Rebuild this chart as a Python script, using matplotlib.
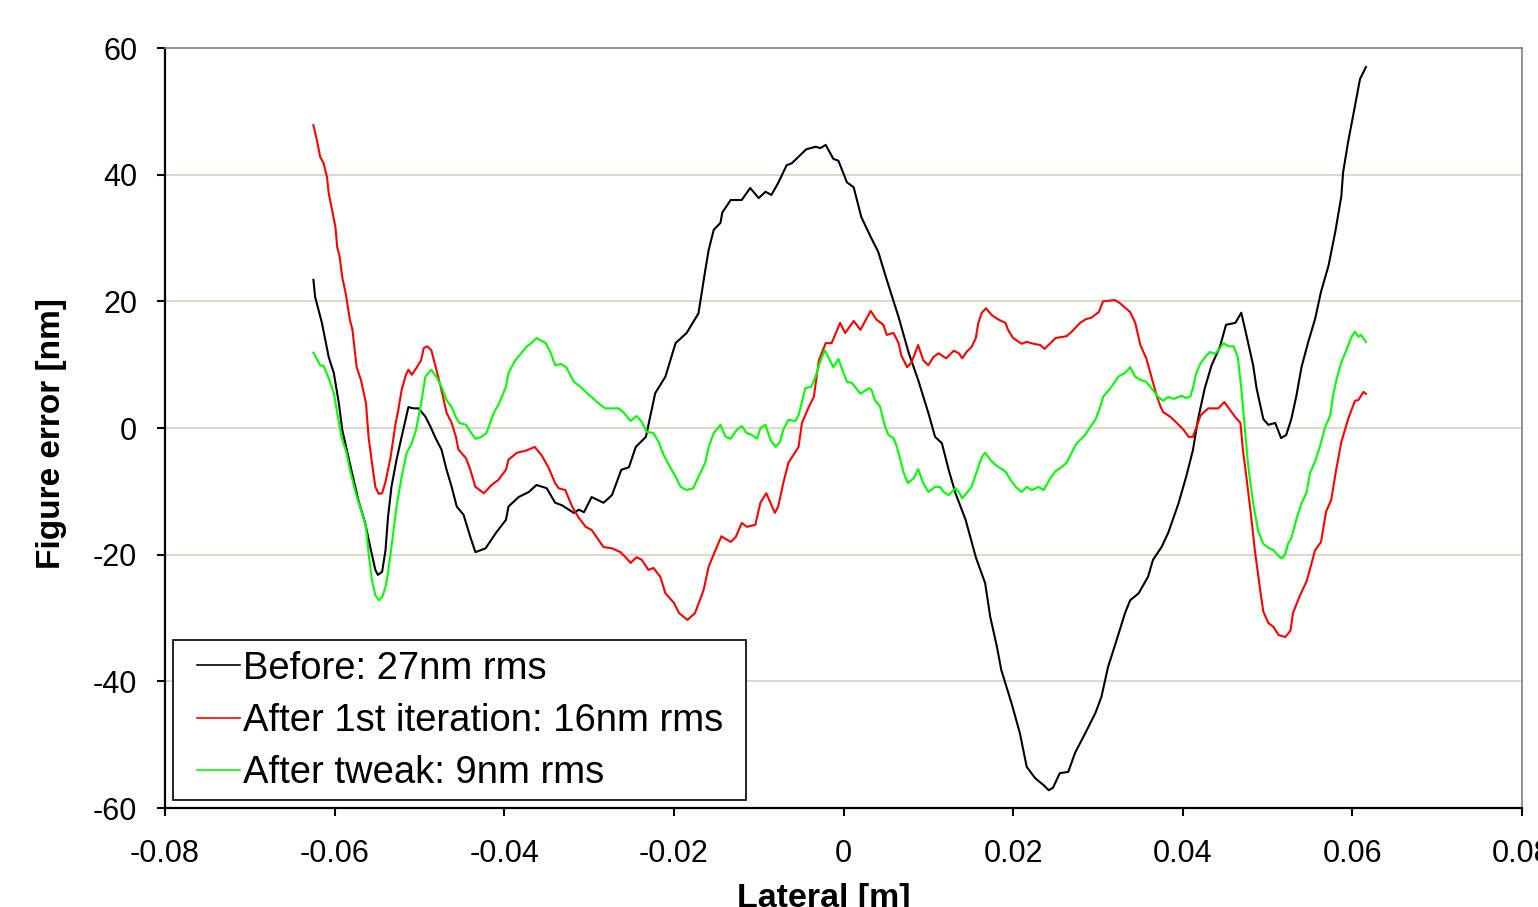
import matplotlib
matplotlib.use("Agg")
import matplotlib.pyplot as plt
from matplotlib.ticker import FixedLocator, FuncFormatter
from matplotlib.patches import Rectangle

plt.rcParams['font.family'] = ['Liberation Sans', 'DejaVu Sans']

# ---------------- data ----------------
x_before = [-0.0625, -0.0623, -0.0615, -0.0607, -0.0601, -0.0595, -0.0591, -0.0581, -0.0572, -0.0564,
            -0.0558, -0.0552, -0.0549, -0.0544, -0.0540, -0.0537, -0.0533, -0.0527, -0.0521, -0.0513,
            -0.0507, -0.0501, -0.0493, -0.0487, -0.0481, -0.0474, -0.0468, -0.0462, -0.0456, -0.0448,
            -0.0440, -0.0434, -0.0422, -0.0410, -0.0398, -0.0395, -0.0383, -0.0371, -0.0362, -0.0350,
            -0.0340, -0.0332, -0.0318, -0.0312, -0.0306, -0.0297, -0.0283, -0.0273, -0.0262, -0.0253,
            -0.0245, -0.0233, -0.0227, -0.0222, -0.0210, -0.0198, -0.0185, -0.0171, -0.0163, -0.0159,
            -0.0153, -0.0145, -0.0143, -0.0133, -0.0120, -0.0110, -0.0100, -0.0092, -0.0085, -0.0077,
            -0.0067, -0.0061, -0.0051, -0.0044, -0.0033, -0.0027, -0.0021, -0.0012, -0.0006, 0.0004,
            0.0012, 0.0021, 0.0032, 0.0041, 0.0051, 0.0065, 0.0077, 0.0088, 0.0100, 0.0108,
            0.0116, 0.0124, 0.0132, 0.0144, 0.0156, 0.0167, 0.0173, 0.0181, 0.0186, 0.0198,
            0.0208, 0.0216, 0.0226, 0.0236, 0.0242, 0.0247, 0.0255, 0.0265, 0.0273, 0.0285,
            0.0297, 0.0304, 0.0312, 0.0322, 0.0332, 0.0338, 0.0348, 0.0359, 0.0365, 0.0375,
            0.0383, 0.0395, 0.0404, 0.0412, 0.0418, 0.0426, 0.0434, 0.0444, 0.0451, 0.0462,
            0.0469, 0.0475, 0.0483, 0.0487, 0.0495, 0.0501, 0.0509, 0.0516, 0.0522, 0.0528,
            0.0534, 0.0540, 0.0548, 0.0556, 0.0563, 0.0572, 0.0580, 0.0587, 0.0589, 0.0595,
            0.0601, 0.0609, 0.0616]
y_before = [23.4, 20.7, 16.6, 11.2, 8.7, 3.9, -0.3, -6.2, -11.4, -15.0,
            -18.8, -22.4, -23.2, -22.7, -19.3, -14.0, -9.3, -5.0, -1.4, 3.3,
            3.1, 3.1, 1.8, 0.2, -1.6, -3.4, -6.6, -9.3, -12.4, -13.7,
            -17.2, -19.6, -19.0, -16.6, -14.5, -12.4, -10.9, -10.1, -9.0, -9.5,
            -11.8, -12.2, -13.4, -12.9, -13.3, -10.9, -11.8, -10.6, -6.6, -6.2,
            -3.0, -1.4, 2.4, 5.5, 8.1, 13.4, 15.0, 18.1, 24.9, 28.1,
            31.3, 32.4, 34.0, 36.0, 36.0, 37.9, 36.3, 37.3, 36.8, 38.7,
            41.5, 41.8, 43.1, 44.0, 44.4, 44.2, 44.7, 42.5, 42.2, 38.8,
            38.0, 33.3, 30.2, 27.8, 23.4, 17.5, 11.8, 7.6, 2.4, -1.4,
            -2.4, -6.6, -10.3, -14.5, -20.4, -24.5, -29.8, -34.6, -38.2, -43.4,
            -48.2, -53.5, -55.3, -56.4, -57.2, -56.8, -54.5, -54.3, -51.3, -48.2,
            -45.0, -42.5, -37.7, -33.5, -29.2, -27.2, -26.1, -23.5, -20.8, -18.8,
            -16.5, -11.9, -7.7, -3.5, 1.4, 6.3, 9.9, 12.9, 16.3, 16.6,
            18.2, 14.7, 9.9, 6.3, 1.4, 0.5, 0.8, -1.6, -1.1, 1.4,
            5.1, 9.6, 13.6, 17.2, 21.5, 25.7, 31.1, 36.6, 40.3, 45.2,
            49.4, 55.1, 57.0]

x_iter1 = [-0.0625, -0.0621, -0.0617, -0.0613, -0.0609, -0.0607, -0.0603, -0.0599, -0.0597, -0.0594,
           -0.0591, -0.0587, -0.0582, -0.0579, -0.0574, -0.0569, -0.0563, -0.0560, -0.0556, -0.0552,
           -0.0548, -0.0544, -0.0540, -0.0534, -0.0528, -0.0525, -0.0521, -0.0516, -0.0513, -0.0509,
           -0.0503, -0.0498, -0.0495, -0.0491, -0.0486, -0.0480, -0.0474, -0.0468, -0.0462, -0.0457,
           -0.0454, -0.0445, -0.0440, -0.0434, -0.0424, -0.0415, -0.0407, -0.0398, -0.0395, -0.0385,
           -0.0375, -0.0364, -0.0356, -0.0348, -0.0340, -0.0336, -0.0328, -0.0320, -0.0312, -0.0304,
           -0.0297, -0.0283, -0.0273, -0.0263, -0.0257, -0.0251, -0.0244, -0.0238, -0.0230, -0.0224,
           -0.0216, -0.0210, -0.0200, -0.0194, -0.0184, -0.0175, -0.0165, -0.0159, -0.0151, -0.0144,
           -0.0133, -0.0127, -0.0120, -0.0114, -0.0104, -0.0098, -0.0091, -0.0081, -0.0077, -0.0071,
           -0.0065, -0.0053, -0.0049, -0.0041, -0.0035, -0.0029, -0.0021, -0.0014, -0.0004, 0.0002,
           0.0012, 0.0020, 0.0032, 0.0039, 0.0047, 0.0051, 0.0059, 0.0065, 0.0068, 0.0075,
           0.0080, 0.0088, 0.0094, 0.0100, 0.0106, 0.0112, 0.0121, 0.0130, 0.0136, 0.0140,
           0.0145, 0.0151, 0.0156, 0.0159, 0.0163, 0.0168, 0.0175, 0.0183, 0.0191, 0.0194,
           0.0200, 0.0210, 0.0216, 0.0224, 0.0232, 0.0237, 0.0244, 0.0250, 0.0263, 0.0269,
           0.0279, 0.0286, 0.0292, 0.0301, 0.0306, 0.0320, 0.0326, 0.0338, 0.0344, 0.0350,
           0.0357, 0.0363, 0.0369, 0.0374, 0.0377, 0.0385, 0.0393, 0.0401, 0.0407, 0.0412,
           0.0421, 0.0430, 0.0442, 0.0449, 0.0456, 0.0462, 0.0468, 0.0471, 0.0475, 0.0480,
           0.0485, 0.0491, 0.0495, 0.0501, 0.0507, 0.0513, 0.0521, 0.0527, 0.0530, 0.0538,
           0.0546, 0.0550, 0.0556, 0.0563, 0.0569, 0.0575, 0.0581, 0.0587, 0.0595, 0.0603,
           0.0607, 0.0613, 0.0616]
y_iter1 = [47.8, 45.5, 42.8, 41.8, 39.6, 37.1, 34.4, 31.7, 28.6, 27.0,
           23.8, 21.3, 17.1, 15.5, 9.6, 7.6, 3.9, -1.4, -5.5, -9.3,
           -10.4, -10.3, -8.5, -4.6, 0.8, 2.8, 6.0, 8.4, 9.2, 8.4,
           9.6, 10.7, 12.6, 12.9, 12.3, 9.2, 6.0, 2.4, 0.8, -1.4,
           -3.4, -4.8, -6.6, -9.3, -10.3, -9.0, -8.2, -6.6, -5.0, -3.9,
           -3.6, -3.0, -4.3, -6.2, -8.7, -9.5, -9.8, -12.4, -14.2, -15.6,
           -16.1, -18.8, -19.0, -19.6, -20.4, -21.3, -20.4, -20.8, -22.4, -22.1,
           -23.5, -26.1, -27.6, -29.2, -30.3, -29.2, -25.6, -21.9, -19.3, -17.1,
           -18.0, -17.2, -15.0, -15.6, -15.3, -11.8, -10.3, -13.4, -12.4, -8.7,
           -5.5, -3.0, 0.8, 3.3, 4.9, 10.7, 13.4, 13.4, 16.6, 15.0,
           16.9, 15.5, 18.5, 17.1, 16.3, 14.7, 15.0, 13.4, 11.5, 9.6,
           10.3, 13.1, 10.7, 9.9, 11.2, 11.8, 11.0, 12.2, 11.8, 11.0,
           12.0, 12.8, 14.2, 16.6, 18.2, 18.9, 17.8, 17.1, 16.6, 15.5,
           14.2, 13.3, 13.6, 13.3, 13.1, 12.5, 13.4, 14.2, 14.5, 15.2,
           16.6, 17.2, 17.4, 18.3, 20.0, 20.2, 19.7, 18.3, 16.6, 13.1,
           11.0, 8.1, 5.2, 3.3, 2.5, 1.8, 0.8, -0.3, -1.4, -1.4,
           2.0, 3.1, 3.1, 4.1, 2.8, 1.7, 0.8, -3.5, -7.7, -13.2,
           -19.3, -25.3, -29.0, -30.8, -31.4, -32.7, -33.0, -32.0, -29.2, -26.5,
           -24.2, -22.3, -19.3, -18.0, -13.2, -11.4, -6.5, -2.2, 1.4, 4.3,
           4.4, 5.7, 5.4]

x_tweak = [-0.0625, -0.0617, -0.0613, -0.0607, -0.0601, -0.0597, -0.0592, -0.0586, -0.0582, -0.0575,
           -0.0569, -0.0563, -0.0560, -0.0556, -0.0552, -0.0548, -0.0544, -0.0540, -0.0537, -0.0533,
           -0.0527, -0.0521, -0.0515, -0.0509, -0.0504, -0.0498, -0.0493, -0.0486, -0.0480, -0.0474,
           -0.0468, -0.0462, -0.0457, -0.0453, -0.0445, -0.0440, -0.0434, -0.0427, -0.0421, -0.0412,
           -0.0407, -0.0398, -0.0395, -0.0387, -0.0380, -0.0374, -0.0368, -0.0362, -0.0351, -0.0345,
           -0.0340, -0.0333, -0.0327, -0.0318, -0.0310, -0.0300, -0.0297, -0.0289, -0.0281, -0.0265,
           -0.0259, -0.0251, -0.0244, -0.0238, -0.0232, -0.0224, -0.0218, -0.0212, -0.0206, -0.0198,
           -0.0192, -0.0185, -0.0177, -0.0171, -0.0163, -0.0159, -0.0153, -0.0145, -0.0139, -0.0133,
           -0.0126, -0.0120, -0.0114, -0.0108, -0.0102, -0.0098, -0.0092, -0.0086, -0.0080, -0.0075,
           -0.0071, -0.0065, -0.0057, -0.0053, -0.0045, -0.0038, -0.0033, -0.0027, -0.0022, -0.0018,
           -0.0012, -0.0006, 0.0000, 0.0004, 0.0010, 0.0020, 0.0030, 0.0033, 0.0037, 0.0043,
           0.0049, 0.0053, 0.0059, 0.0063, 0.0067, 0.0071, 0.0076, 0.0083, 0.0088, 0.0094,
           0.0100, 0.0108, 0.0114, 0.0118, 0.0124, 0.0132, 0.0136, 0.0140, 0.0145, 0.0151,
           0.0157, 0.0163, 0.0167, 0.0173, 0.0179, 0.0191, 0.0197, 0.0203, 0.0210, 0.0216,
           0.0222, 0.0230, 0.0236, 0.0244, 0.0250, 0.0256, 0.0263, 0.0269, 0.0275, 0.0285,
           0.0291, 0.0297, 0.0303, 0.0306, 0.0316, 0.0324, 0.0332, 0.0338, 0.0344, 0.0350,
           0.0357, 0.0363, 0.0371, 0.0377, 0.0383, 0.0389, 0.0399, 0.0404, 0.0409, 0.0412,
           0.0416, 0.0421, 0.0427, 0.0432, 0.0438, 0.0444, 0.0448, 0.0454, 0.0460, 0.0465,
           0.0469, 0.0473, 0.0477, 0.0483, 0.0489, 0.0495, 0.0501, 0.0507, 0.0513, 0.0517,
           0.0521, 0.0524, 0.0528, 0.0534, 0.0540, 0.0546, 0.0550, 0.0556, 0.0562, 0.0568,
           0.0574, 0.0577, 0.0581, 0.0587, 0.0593, 0.0599, 0.0603, 0.0607, 0.0610, 0.0616]
y_tweak = [11.9, 9.9, 9.8, 7.9, 5.5, 2.4, -1.4, -3.9, -6.6, -10.3,
           -12.9, -15.6, -19.7, -24.0, -26.4, -27.2, -26.7, -25.1, -22.9, -18.8,
           -12.4, -7.7, -3.9, -2.4, -0.3, 3.9, 8.1, 9.2, 8.1, 6.5,
           4.4, 3.3, 1.7, 0.8, 0.5, -0.6, -1.7, -1.4, -0.8, 2.5,
           3.6, 6.5, 8.7, 10.7, 11.8, 12.8, 13.4, 14.2, 13.4, 11.8,
           9.9, 10.1, 9.6, 7.3, 6.5, 5.2, 4.9, 3.9, 3.1, 3.1,
           2.4, 1.1, 1.9, 1.0, -0.6, -0.8, -2.2, -4.3, -5.8, -7.7,
           -9.3, -9.8, -9.5, -7.7, -5.5, -3.0, -0.8, 0.5, -1.4, -1.7,
           -0.3, 0.3, -0.8, -1.1, -1.7, 0.0, 0.5, -1.9, -3.0, -2.2,
           -0.3, 1.3, 1.1, 2.0, 6.3, 6.5, 8.1, 10.7, 12.3, 11.2,
           9.6, 10.9, 8.7, 7.3, 7.1, 5.4, 6.3, 6.0, 4.4, 3.4,
           0.2, -1.1, -1.6, -3.0, -5.0, -7.1, -8.7, -7.9, -6.5, -8.7,
           -10.1, -9.3, -9.3, -10.1, -10.6, -9.5, -10.1, -11.1, -10.3, -9.3,
           -6.9, -4.6, -3.9, -5.0, -5.8, -6.9, -8.2, -9.3, -10.1, -9.3,
           -9.8, -9.3, -9.8, -7.9, -6.8, -6.3, -5.5, -3.9, -2.4, -1.1,
           0.2, 1.3, 3.4, 4.9, 6.5, 8.1, 8.7, 9.6, 8.1, 7.6,
           7.3, 6.3, 4.9, 4.3, 4.9, 4.6, 5.1, 4.7, 5.0, 6.3,
           8.7, 10.2, 11.3, 12.0, 11.7, 12.6, 13.4, 12.9, 12.9, 11.1,
           6.3, 0.2, -5.8, -11.9, -16.3, -18.3, -18.9, -19.3, -20.2, -20.6,
           -19.9, -18.3, -17.4, -14.4, -11.9, -10.2, -7.1, -5.3, -2.8, 0.2,
           2.0, 5.0, 7.5, 10.4, 12.3, 14.4, 15.2, 14.4, 14.7, 13.6]

series_labels = ["Before: 27nm rms", "After 1st iteration: 16nm rms", "After tweak: 9nm rms"]
series_colors = ["#000000", "#FF0000", "#00FF00"]
x_ticks = [-0.08, -0.06, -0.04, -0.02, 0.0, 0.02, 0.04, 0.06, 0.08]
y_ticks = [-60, -40, -20, 0, 20, 40, 60]
x_title = "Lateral [m]"
y_title = "Figure error [nm]"

# ---------------- figure ----------------
W, H = 1538, 907
fig = plt.figure(figsize=(W / 100, H / 100), dpi=100)
ax_l, ax_r, ax_t, ax_b = 165, 1522, 48, 808
ax = fig.add_axes([ax_l / W, 1 - ax_b / H, (ax_r - ax_l) / W, (ax_b - ax_t) / H])
aw, ah = ax_r - ax_l, ax_b - ax_t

for xs, ys, lab, col in zip([x_before, x_iter1, x_tweak], [y_before, y_iter1, y_tweak],
                            series_labels, series_colors):
    ax.plot(xs, ys, color=col, lw=1.5, label=lab, zorder=3)

ax.set_xlim(-0.08, 0.08)
ax.set_ylim(-60, 60)
ax.xaxis.set_major_locator(FixedLocator(x_ticks))
ax.yaxis.set_major_locator(FixedLocator(y_ticks))


def xfmt(v, pos):
    if abs(v) < 1e-12:
        return "0"
    return f"{v:.2f}"


ax.xaxis.set_major_formatter(FuncFormatter(xfmt))
ax.yaxis.set_major_formatter(FuncFormatter(lambda v, p: f"{int(round(v))}"))

for yv in y_ticks[1:-1]:
    ax.axhline(yv, color="#DAD5C0", lw=1.3, zorder=1)

ax.spines['left'].set_color('black')
ax.spines['bottom'].set_color('black')
ax.spines['left'].set_linewidth(1.6)
ax.spines['bottom'].set_linewidth(1.6)
ax.spines['top'].set_color('#808080')
ax.spines['right'].set_color('#808080')
ax.spines['top'].set_linewidth(1.2)
ax.spines['right'].set_linewidth(1.2)

ax.tick_params(axis='x', direction='out', length=6, width=1.5, pad=16, labelsize=22)
ax.tick_params(axis='y', direction='out', length=6, width=1.5, pad=14, labelsize=22)

ax.set_xlabel(x_title, fontsize=24.5, fontweight='bold')
ax.set_ylabel(y_title, fontsize=24, fontweight='bold')
ax.xaxis.set_label_coords((824 - ax_l) / aw, (ax_b - 883) / ah)
ax.yaxis.set_label_coords((67 - ax_l) / aw, (ax_b - 434) / ah)

# legend box (frame drawn as a separate rectangle so horizontal padding can differ)
box = Rectangle(((173 - ax_l) / aw, (ax_b - 800) / ah), (746 - 173) / aw, (800 - 640) / ah,
                transform=ax.transAxes, facecolor='white', edgecolor='black', lw=1.2, zorder=4)
ax.add_patch(box)
leg = ax.legend(loc='center left', bbox_to_anchor=((197 - ax_l) / aw, (ax_b - 721) / ah),
                borderaxespad=0, fontsize=27.5, frameon=False,
                handlelength=1.13, handletextpad=0.08, labelspacing=0.43, borderpad=0)
leg.set_zorder(5)
for h in leg.get_lines():
    h.set_linewidth(1.2)

fig.savefig("out.png", dpi=100)
